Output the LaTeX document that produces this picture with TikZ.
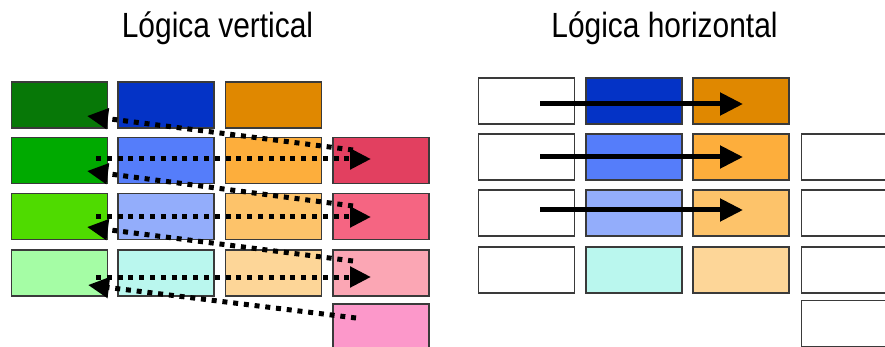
\documentclass[tikz,border=0pt]{standalone}
\usepackage{fontspec}
\setmainfont{Liberation Sans}
\usetikzlibrary{arrows.meta}
\definecolor{g1}{HTML}{077807}
\definecolor{g2}{HTML}{00AA00}
\definecolor{g3}{HTML}{4FDB00}
\definecolor{g4}{HTML}{A5FDA5}
\definecolor{b1}{HTML}{0433C6}
\definecolor{b2}{HTML}{557DFA}
\definecolor{b3}{HTML}{93ADFB}
\definecolor{b4}{HTML}{BAF7EE}
\definecolor{o1}{HTML}{E08800}
\definecolor{o2}{HTML}{FDAE3C}
\definecolor{o3}{HTML}{FDC36A}
\definecolor{o4}{HTML}{FDD698}
\definecolor{r2}{HTML}{E24060}
\definecolor{r3}{HTML}{F56582}
\definecolor{r4}{HTML}{FBA6B4}
\definecolor{r5}{HTML}{FC98CA}
\definecolor{edge}{HTML}{3A3A3A}
\tikzset{
  cell/.style={draw=edge, line width=1.2pt, minimum width=96pt, minimum height=46pt, inner sep=0pt},
  title/.style={font=\fontsize{35}{40}\selectfont, xscale=0.855, anchor=base, inner sep=0pt},
  solidarrow/.style={line width=5pt, -{Triangle[length=23pt,width=22pt]}},
  dotarrow/.style={line width=5pt, dash pattern=on 5pt off 5.8pt, -{Triangle[length=21pt,width=20pt]}}
}
\begin{document}
\begin{tikzpicture}[x=1pt,y=-1pt]
\useasboundingbox (0,0) rectangle (885,347);
\clip (0,0) rectangle (885,347);
% titles
\node[title] (tv) at (217.5,38) {Lógica vertical};
\node[title] (th) at (664.5,38) {Lógica horizontal};
% left panel
\node[cell, fill=g1] (L11) at (59.5,105) {};
\node[cell, fill=b1] (L12) at (166,105) {};
\node[cell, fill=o1] (L13) at (273.5,105) {};
\node[cell, fill=g2] (L21) at (59.5,160.5) {};
\node[cell, fill=b2] (L22) at (166,160.5) {};
\node[cell, fill=o2] (L23) at (273.5,160.5) {};
\node[cell, fill=r2] (L24) at (381,160.5) {};
\node[cell, fill=g3] (L31) at (59.5,216.5) {};
\node[cell, fill=b3] (L32) at (166,216.5) {};
\node[cell, fill=o3] (L33) at (273.5,216.5) {};
\node[cell, fill=r3] (L34) at (381,216.5) {};
\node[cell, fill=g4] (L41) at (59.5,273) {};
\node[cell, fill=b4] (L42) at (166,273) {};
\node[cell, fill=o4] (L43) at (273.5,273) {};
\node[cell, fill=r4] (L44) at (381,273) {};
\node[cell, fill=r5] (L54) at (381,327) {};
% right panel
\node[cell, fill=white] (R11) at (526.5,101) {};
\node[cell, fill=b1] (R12) at (634,101) {};
\node[cell, fill=o1] (R13) at (741,101) {};
\node[cell, fill=white] (R21) at (526.5,157) {};
\node[cell, fill=b2] (R22) at (634,157) {};
\node[cell, fill=o2] (R23) at (741,157) {};
\node[cell, fill=white] (R24) at (849.5,157) {};
\node[cell, fill=white] (R31) at (526.5,213) {};
\node[cell, fill=b3] (R32) at (634,213) {};
\node[cell, fill=o3] (R33) at (741,213) {};
\node[cell, fill=white] (R34) at (849.5,213) {};
\node[cell, fill=white] (R41) at (526.5,270) {};
\node[cell, fill=b4] (R42) at (634,270) {};
\node[cell, fill=o4] (R43) at (741,270) {};
\node[cell, fill=white] (R44) at (849.5,270) {};
\node[cell, fill=white] (R54) at (849.5,323.5) {};
% arrow end points, left
\coordinate (h1s) at (96,159);  \coordinate (h1e) at (371,159);
\coordinate (h2s) at (96,217);  \coordinate (h2e) at (371,217);
\coordinate (h3s) at (96,277);  \coordinate (h3e) at (371,277);
\coordinate (d1s) at (353,150); \coordinate (d1e) at (87,116);
\coordinate (d2s) at (353,206); \coordinate (d2e) at (87,171);
\coordinate (d3s) at (353,261); \coordinate (d3e) at (87,227);
\coordinate (d4s) at (356,318); \coordinate (d4e) at (88,285);
% arrow end points, right
\coordinate (s1s) at (540,104); \coordinate (s1e) at (743,104);
\coordinate (s2s) at (540,157); \coordinate (s2e) at (743,157);
\coordinate (s3s) at (540,210); \coordinate (s3e) at (743,210);
% left arrows
\draw[dotarrow] (d1s) -- (d1e);
\draw[dotarrow] (d2s) -- (d2e);
\draw[dotarrow] (d3s) -- (d3e);
\draw[dotarrow] (d4s) -- (d4e);
\draw[dotarrow] (h1s) -- (h1e);
\draw[dotarrow] (h2s) -- (h2e);
\draw[dotarrow] (h3s) -- (h3e);
% right arrows
\draw[solidarrow] (s1s) -- (s1e);
\draw[solidarrow] (s2s) -- (s2e);
\draw[solidarrow] (s3s) -- (s3e);
\end{tikzpicture}
\end{document}
